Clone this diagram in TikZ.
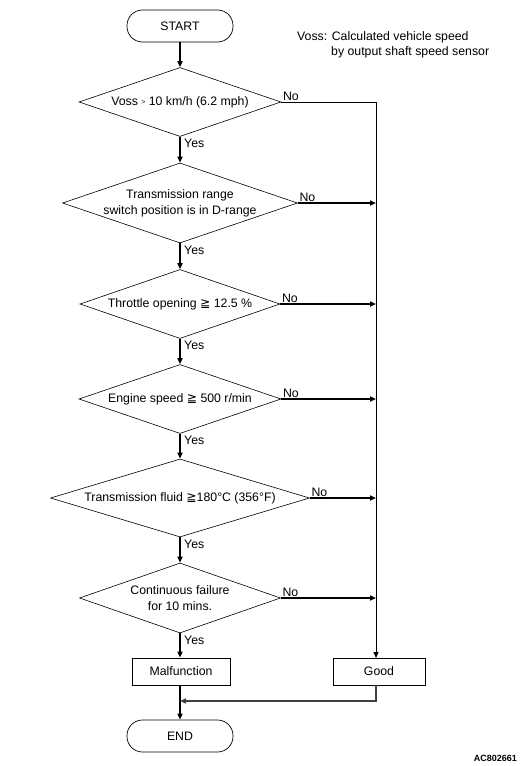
\documentclass[tikz,border=0pt]{standalone}
\usepackage{fontspec}
\setmainfont{Liberation Sans}
\newfontfamily\symfont{DejaVu Sans}
\usetikzlibrary{shapes.geometric,arrows.meta}
\newcommand{\mygeq}{{\symfont\char"2267}}
\tikzset{
  every node/.style={font=\fontsize{12.3}{16}\selectfont, text=black},
  term/.style={draw, rectangle, rounded corners=15.5pt, minimum width=106pt, minimum height=32pt, inner sep=0pt, line width=0.7pt},
  dec/.style={draw, diamond, inner sep=0pt, line width=0.6pt},
  proc/.style={draw, rectangle, minimum height=27pt, inner sep=0pt, line width=0.7pt},
  flow/.style={line width=1.8pt, -{Triangle[length=6pt,width=5pt]}},
  noflow/.style={line width=1.8pt, -{Triangle[length=6pt,width=5pt]}},
  thin/.style={line width=0.9pt},
  lab/.style={inner sep=1pt, align=center},
}
\begin{document}
\begin{tikzpicture}[x=1pt,y=-1pt]
\useasboundingbox (0,0) rectangle (527,766);

\node[term] (start) at (180,26) {START};
\node[anchor=base west, inner sep=0pt] (note1) at (297,40) {Voss: Calculated vehicle speed};
\node[anchor=base west, inner sep=0pt] (note2) at (331,55) {by output shaft speed sensor};

\node[dec, minimum width=202pt, minimum height=69pt] (d1) at (180,102) {};
\node[lab] (t1) at (d1) {Voss \raisebox{0.5pt}{\scriptsize >} 10 km/h (6.2 mph)};

\node[dec, minimum width=235pt, minimum height=80pt] (d2) at (180,203) {};
\node[lab] (t2) at (d2) {Transmission range\\switch position is in D-range};

\node[dec, minimum width=200pt, minimum height=69pt] (d3) at (180,304) {};
\node[lab] (t3) at (d3) {Throttle opening \mygeq\ 12.5 \%};

\node[dec, minimum width=202pt, minimum height=69pt] (d4) at (180,399) {};
\node[lab] (t4) at (d4) {Engine speed \mygeq\ 500 r/min};

\node[dec, minimum width=259pt, minimum height=78pt] (d5) at (180,498) {};
\node[lab] (t5) at (d5) {Transmission fluid \mygeq180\textdegree C (356\textdegree F)};

\node[dec, minimum width=201pt, minimum height=70pt] (d6) at (180,598) {};
\node[lab] (t6) at (d6) {Continuous failure\\for 10 mins.};

\node[proc, minimum width=98pt] (mal) at (181,671.5) {Malfunction};
\node[proc, minimum width=92pt] (good) at (379,671.5) {Good};
\node[term] (end) at (180,736) {END};

\node[anchor=base east, inner sep=0pt, font=\fontsize{9}{10}\selectfont\bfseries] (code) at (517,761) {AC802661};

% coordinates on the right-hand line
\coordinate (r1) at (376,102);
\coordinate (r2) at (376,203);
\coordinate (r3) at (376,304);
\coordinate (r4) at (376,399);
\coordinate (r5) at (376,498);
\coordinate (r6) at (376,598);
\coordinate (gtop) at (376,658);
\coordinate (gbot) at (376,685);
\coordinate (ret) at (376,701);
\coordinate (join) at (180,701);

% main flow
\draw[flow] (start) -- (d1);
\draw[flow] (d1) -- (d2);
\draw[flow] (d2) -- (d3);
\draw[flow] (d3) -- (d4);
\draw[flow] (d4) -- (d5);
\draw[flow] (d5) -- (d6);
\draw[flow] (d6.south) -- (d6.south |- mal.north);
\draw[flow] (mal.south -| d6.south) -- (end);

% No branches
\draw[thin] (d1.east) -- (r1);
\draw[thin, -{Triangle[length=6pt,width=5pt]}] (r1) -- (gtop);
\draw[noflow] (d2.east) -- (r2);
\draw[noflow] (d3.east) -- (r3);
\draw[noflow] (d4.east) -- (r4);
\draw[noflow] (d5.east) -- (r5);
\draw[noflow] (d6.east) -- (r6);

% return from Good
\draw[line width=1.2pt, black!75, -{Triangle[length=6pt,width=5pt]}] (gbot) -- (ret) -- (join);

% Yes / No labels
\foreach \d in {d1,d2,d3,d4,d5,d6}{
  \node[anchor=south west, inner sep=1.5pt] (no-\d) at (\d.east) {No};
  \node[anchor=north west, inner sep=1.5pt] (yes-\d) at ([xshift=2.5pt,yshift=-1pt]\d.south) {Yes};
}
\end{tikzpicture}
\end{document}
